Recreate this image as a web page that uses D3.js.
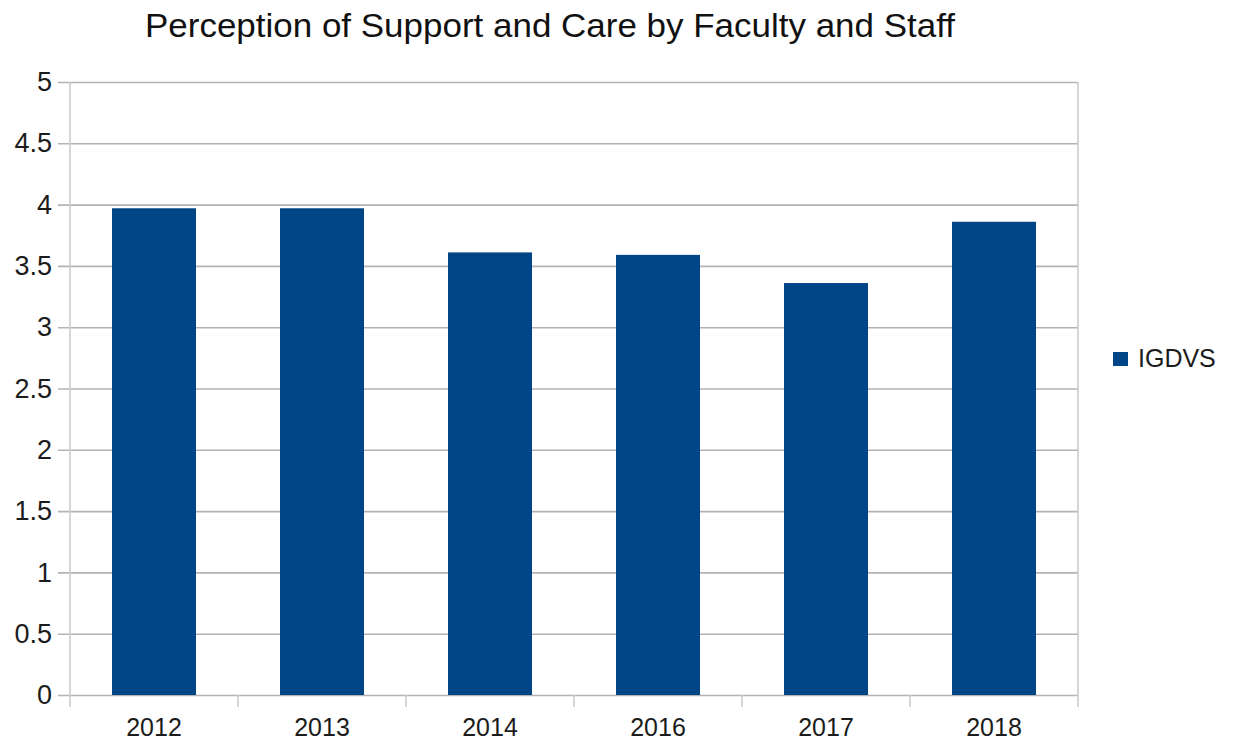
<!DOCTYPE html>
<html>
<head>
<meta charset="utf-8">
<script src="https://cdn.jsdelivr.net/npm/d3@7"></script>
<style>
  html, body { margin: 0; padding: 0; background: #fff; }
  svg { display: block; font-family: "Liberation Sans", Arial, sans-serif; }
</style>
</head>
<body>
<svg id="chart" width="1233" height="742"></svg>
<script>
// Survey results, mean score per year
const categories = ["2012", "2013", "2014", "2016", "2017", "2018"];
const igdvsValues = [3.97, 3.97, 3.61, 3.59, 3.36, 3.86];
const yTickValues = [0, 0.5, 1, 1.5, 2, 2.5, 3, 3.5, 4, 4.5, 5];
const yTickLabels = ["0", "0.5", "1", "1.5", "2", "2.5", "3", "3.5", "4", "4.5", "5"];
const seriesName = "IGDVS";
const chartTitle = "Perception of Support and Care by Faculty and Staff";

const svg = d3.select("#chart");
const plot = { left: 70, right: 1078, top: 82, bottom: 695 };
const gridColor = "#b3b3b3";
const textColor = "#1c1c1c";
const barColor = "#004586";

const x = d3.scaleBand()
  .domain(categories)
  .range([plot.left, plot.right])
  .paddingInner(0.5)
  .paddingOuter(0.25);

const y = d3.scaleLinear()
  .domain([0, 5])
  .range([plot.bottom, plot.top]);

// horizontal grid lines with short ticks left of the axis
const yAxis = d3.axisLeft(y)
  .tickValues(yTickValues)
  .tickFormat((d, i) => yTickLabels[i])
  .tickSize(12)
  .tickPadding(6);

const yg = svg.append("g")
  .attr("transform", `translate(${plot.left},0)`)
  .call(yAxis);
yg.select(".domain").remove();
yg.selectAll(".tick line")
  .attr("stroke", gridColor)
  .attr("stroke-width", 1.6)
  .attr("x1", -12)
  .attr("x2", plot.right - plot.left);
yg.selectAll(".tick text")
  .attr("fill", textColor)
  .attr("font-size", 27)
  .attr("x", -18);

// vertical axis lines at both sides, extending below the baseline
[plot.left, plot.right].forEach(px => {
  svg.append("line")
    .attr("x1", px).attr("x2", px)
    .attr("y1", plot.top).attr("y2", plot.bottom + 12)
    .attr("stroke", "#cccccc")
    .attr("stroke-width", 1.6);
});

// category separator ticks below the baseline
const gap = (x.step() - x.bandwidth()) / 2;
svg.append("g").selectAll("line")
  .data(categories.slice(1))
  .join("line")
  .attr("x1", c => x(c) - gap)
  .attr("x2", c => x(c) - gap)
  .attr("y1", plot.bottom)
  .attr("y2", plot.bottom + 12)
  .attr("stroke", "#cccccc")
  .attr("stroke-width", 1.6);

// bars
svg.append("g").selectAll("rect")
  .data(categories)
  .join("rect")
  .attr("x", c => x(c))
  .attr("width", x.bandwidth())
  .attr("y", (c, i) => y(igdvsValues[i]))
  .attr("height", (c, i) => y(0) - y(igdvsValues[i]))
  .attr("fill", barColor);

// category labels
svg.append("g").selectAll("text")
  .data(categories)
  .join("text")
  .attr("x", c => x(c) + x.bandwidth() / 2)
  .attr("y", 736)
  .attr("text-anchor", "middle")
  .attr("font-size", 25)
  .attr("fill", textColor)
  .text(c => c);

// title
svg.append("text")
  .attr("x", 550)
  .attr("y", 37)
  .attr("text-anchor", "middle")
  .attr("font-size", 33)
  .attr("fill", "#111")
  .attr("textLength", 810)
  .attr("lengthAdjust", "spacingAndGlyphs")
  .text(chartTitle);

// legend
const legend = svg.append("g");
legend.append("rect")
  .attr("x", 1113).attr("y", 352)
  .attr("width", 15).attr("height", 14)
  .attr("fill", barColor);
legend.append("text")
  .attr("x", 1138).attr("y", 367)
  .attr("font-size", 25)
  .attr("fill", textColor)
  .text(seriesName);
</script>
</body>
</html>
